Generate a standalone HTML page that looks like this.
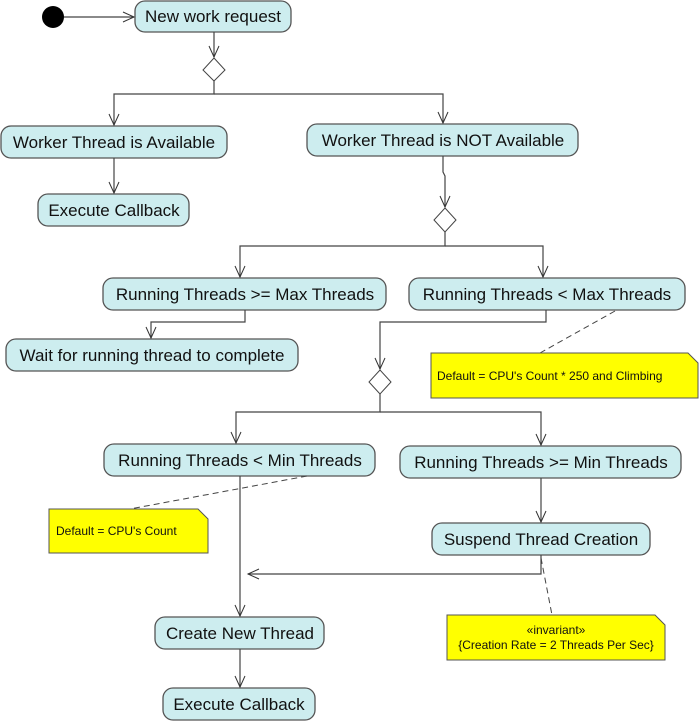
<!DOCTYPE html>
<html><head><style>body{margin:0;background:#fff}svg{display:block}</style></head>
<body>
<svg width="700" height="721" viewBox="0 0 700 721" xmlns="http://www.w3.org/2000/svg" font-family="Liberation Sans, Arial, sans-serif">
<defs>
<marker id="a" markerWidth="14" markerHeight="14" refX="12" refY="6" orient="auto" markerUnits="userSpaceOnUse">
<path d="M1,1 L12,6 L1,11" fill="none" stroke="#333" stroke-width="1"/>
</marker>
</defs>
<g fill="#cdedef" stroke="#555" stroke-width="1.3">
<rect x="135" y="1" width="156" height="31" rx="10"/>
<rect x="1" y="126" width="226" height="32" rx="10"/>
<rect x="307" y="124" width="271" height="32" rx="10"/>
<rect x="38" y="194" width="151" height="32" rx="10"/>
<rect x="103" y="278" width="283" height="32" rx="10"/>
<rect x="409" y="278" width="276" height="32" rx="10"/>
<rect x="6" y="339" width="292" height="32" rx="10"/>
<rect x="104" y="444" width="271" height="32" rx="10"/>
<rect x="400" y="446" width="281" height="32" rx="10"/>
<rect x="432" y="523" width="218" height="32" rx="10"/>
<rect x="155" y="617" width="169" height="32" rx="10"/>
<rect x="163" y="688" width="152" height="32" rx="10"/>
</g>
<circle cx="53" cy="17" r="11" fill="#000"/>
<g fill="#fff" stroke="#444" stroke-width="1">
<path d="M214,58 L225,70 L214,81 L203,70 Z"/>
<path d="M445,208 L456,220 L445,232 L434,220 Z"/>
<path d="M380,370 L391,382 L380,394 L369,382 Z"/>
</g>
<g fill="none" stroke="#444" stroke-width="1.2">
<path d="M64,17 L134,17" marker-end="url(#a)"/>
<path d="M214,32 L214,57" marker-end="url(#a)"/>
<path d="M214,81 L214,94 L114,94 L114,125" marker-end="url(#a)"/>
<path d="M214,94 L443,94 L443,123" marker-end="url(#a)"/>
<path d="M114,158 L114,193" marker-end="url(#a)"/>
<path d="M443,156 L443,172 L445,176 L445,207" marker-end="url(#a)"/>
<path d="M445,232 L445,246 L240,246 L240,277" marker-end="url(#a)"/>
<path d="M445,246 L543,246 L543,277" marker-end="url(#a)"/>
<path d="M245,310 L245,322 L151,322 L151,338" marker-end="url(#a)"/>
<path d="M546,310 L546,322 L380,322 L380,369" marker-end="url(#a)"/>
<path d="M380,394 L380,412 L236,412 L236,443" marker-end="url(#a)"/>
<path d="M380,412 L541,412 L541,445" marker-end="url(#a)"/>
<path d="M541,478 L541,522" marker-end="url(#a)"/>
<path d="M541,555 L541,574 L248,574" marker-end="url(#a)"/>
<path d="M240,476 L240,616" marker-end="url(#a)"/>
<path d="M240,649 L240,687" marker-end="url(#a)"/>
</g>
<g stroke="#444" stroke-width="1" stroke-dasharray="6,4" fill="none">
<path d="M615,311 L540,353"/>
<path d="M307,476 L130,509"/>
<path d="M541,558 L552,615"/>
</g>
<g fill="#ffff00" stroke="#555" stroke-width="1">
<path d="M431,353 L688,353 L698,363 L698,398 L431,398 Z"/>
<path d="M49,509 L198,509 L208,519 L208,553 L49,553 Z"/>
<path d="M447,615 L655,615 L665,625 L665,660 L447,660 Z"/>
</g>
<g fill="#111" font-size="17" text-anchor="middle">
<text x="213" y="22">New work request</text>
<text x="114" y="148">Worker Thread is Available</text>
<text x="443" y="146">Worker Thread is NOT Available</text>
<text x="114" y="216">Execute Callback</text>
<text x="245" y="300">Running Threads &gt;= Max Threads</text>
<text x="547" y="300">Running Threads &lt; Max Threads</text>
<text x="152" y="361">Wait for running thread to complete</text>
<text x="240" y="466">Running Threads &lt; Min Threads</text>
<text x="541" y="468">Running Threads &gt;= Min Threads</text>
<text x="541" y="545">Suspend Thread Creation</text>
<text x="240" y="639">Create New Thread</text>
<text x="239" y="710">Execute Callback</text>
</g>
<g fill="#111" font-size="12">
<text x="437" y="380">Default = CPU's Count * 250 and Climbing</text>
<text x="56" y="535">Default = CPU's Count</text>
<text x="556" y="634" text-anchor="middle">«invariant»</text>
<text x="556" y="649" text-anchor="middle">{Creation Rate = 2 Threads Per Sec}</text>
</g>
</svg>
</body></html>
